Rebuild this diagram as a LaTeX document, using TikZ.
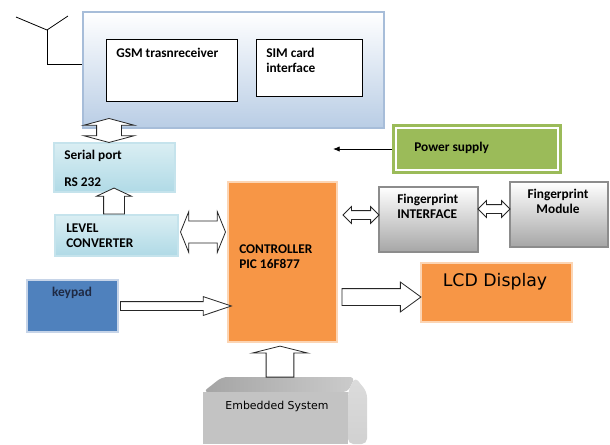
\documentclass[tikz,border=0pt]{standalone}
\usepackage{fontspec}
\setmainfont{Carlito}
\newfontfamily\dejavu{DejaVu Sans}
\usepackage{tikz}
\usetikzlibrary{arrows.meta,calc,fit,shapes.arrows}
\usepackage{xcolor}

\definecolor{gsmblue}{HTML}{B9CDE5}
\definecolor{gsmedge}{HTML}{A7BDD9}
\definecolor{porttop}{HTML}{DAEEF3}
\definecolor{portcyan}{HTML}{B0DAE6}
\definecolor{portedge}{HTML}{C5E3EC}
\definecolor{ctrlorange}{HTML}{F79646}
\definecolor{ctrledge}{HTML}{FCD5B4}
\definecolor{pwrgreen}{HTML}{9BBB59}
\definecolor{kpdblue}{HTML}{4F81BD}
\definecolor{kpdedge}{HTML}{C6D4E8}
\definecolor{kpdtext}{HTML}{1F2A44}
\definecolor{fpgray}{HTML}{A6A6A6}
\definecolor{fpedge}{HTML}{8C8C8C}
\definecolor{embface}{HTML}{C3C3C3}
\definecolor{embtop}{HTML}{A4A4A4}
\definecolor{embside}{HTML}{DCDCDC}

\begin{document}
\begin{tikzpicture}[x=0.75pt, y=-0.75pt,
    box/.style={inner sep=0pt, line width=0.8pt},
    lbl/.style={font=\bfseries\fontsize{10}{12}\selectfont, inner sep=0pt, anchor=base west},
    hollow/.style={draw=black!85, fill=white, line width=0.6pt, inner sep=0pt}]
    \useasboundingbox (0,0) rectangle (610,444);

    % --- 1. GSM MODULE WITH ANTENNA ---
    % outer panel (84 px from left, 116 px tall)
    \node[box, draw=gsmedge, top color=white, bottom color=gsmblue, fit={(83,12) (384,128)}] (gsm) {};
    \node[box, draw=black, fill=white, line width=0.6pt, fit={(106,39) (237,101)}] (gsmrx) {};
    \node[box, draw=black, fill=white, line width=0.6pt, fit={(256,39) (362,96)}] (sim) {};
    \node[lbl] at (116,57) {GSM trasnreceiver};
    \node[lbl] at (266,57) {SIM card};
    \node[lbl] at (266,72) {interface};

    \coordinate (ant) at (47,30);
    \draw[line width=0.6pt] (16,17) -- (ant) -- (68,16);
    \draw[line width=0.6pt] (ant) |- ($(gsm.west)+(0,-6)$);

    % --- 2. LEFT COLUMN ---
    \node[box, draw=portedge, top color=porttop, bottom color=portcyan, fit={(54,143) (175,192)}] (serial) {};
    \node[lbl] at (64,159) {Serial port};
    \node[lbl] at (64,186) {RS 232};

    \node[box, draw=portedge, top color=porttop, bottom color=portcyan, fit={(55,215) (178,256)}] (lvl) {};
    \node[lbl] at (66,232) {LEVEL};
    \node[lbl] at (66,247) {CONVERTER};

    \node[box, draw=kpdedge, fill=kpdblue, line width=1.5pt, fit={(27,280) (118,332)}] (kpd) {};
    \node[lbl, anchor=base, text=kpdtext] at (72,296) {keypad};

    % --- 3. CONTROLLER ---
    \node[box, draw=ctrledge, fill=ctrlorange, fit={(228,182) (337,342)}] (ctrl) {};
    \node[lbl] at (239,253) {CONTROLLER};
    \node[lbl] at (239,268) {PIC 16F877};

    % --- 4. RIGHT SIDE ---
    % green supply box with white inner rule
    \node[box, draw=pwrgreen, fill=pwrgreen, line width=1.5pt, fit={(393,125) (561,173)}] (pwr) {};
    \draw[white, line width=0.8pt] ($(pwr.north west)+(4,4)$) rectangle ($(pwr.south east)+(-4,-4)$);
    \node[lbl] at (414,151) {Power supply};
    \coordinate (pwrend) at (333,149);
    \draw[-{Latex[length=5pt,width=4pt]}, line width=0.6pt] (pwr.west) -- (pwrend);

    \node[box, draw=fpedge, top color=white, bottom color=fpgray, fit={(379,187) (478,252)}] (fpi) {};
    \node[lbl] at (397,203) {Fingerprint};
    \node[lbl] at (397,218) {INTERFACE};

    \node[box, draw=fpedge, top color=white, bottom color=fpgray, fit={(510,182) (608,247)}] (fpm) {};
    \node[lbl, anchor=base] at (558,198) {Fingerprint};
    \node[lbl, anchor=base] at (558,213) {Module};

    \node[box, draw=ctrledge, fill=ctrlorange, fit={(421,263) (572,322)}] (lcd) {};
    \node[font=\dejavu\fontsize{13}{15}\selectfont, inner sep=0pt, anchor=base] at (495,286) {LCD Display};

    % --- 5. EMBEDDED SYSTEM (bevelled block) ---
    \shade[left color=embtop, right color=embside!70!embtop, rounded corners=4pt]
        (203,392) -- (222,377) -- (355,377) -- (348,392) -- cycle;
    \shade[top color=embside, bottom color=embside!80!embtop, rounded corners=4pt]
        (348,392) -- (355,377) -- (367,392) -- (367,444) -- (348,444) -- cycle;
    \node[box, fill=embface, fit={(203,392) (348,444)}] (emb) {};
    \node[font=\dejavu\fontsize{8.2}{10}\selectfont, inner sep=0pt, anchor=base] at (277,409) {Embedded System};

    % --- 6. BLOCK ARROWS ---
    % sizes in pt: 1 px = 0.75pt, shaft = 2*inner ysep
    \node[hollow, double arrow, rotate=90, inner ysep=9pt, minimum height=18pt, minimum width=37.5pt,
          double arrow head extend=9.75pt, double arrow tip angle=150]
          (gsmser) at ($(serial.north)+(-5.5,-12)$) {};
    \node[hollow, single arrow, rotate=90, anchor=tail, inner ysep=7.5pt, minimum height=19.5pt, minimum width=25.5pt,
          single arrow head extend=5.25pt, single arrow tip angle=130]
          (lvlser) at ($(lvl.north)+(-2.5,0)$) {};
    \node[hollow, double arrow, inner ysep=7.9pt, minimum height=33.75pt, minimum width=30pt,
          double arrow head extend=7.1pt, double arrow tip angle=136]
          (lvlctrl) at ($(lvl.east)!.5!(ctrl.west |- lvl.east)+(0,-3.5)$) {};
    \node[hollow, double arrow, inner ysep=3pt, minimum height=27pt, minimum width=12pt,
          double arrow head extend=3pt, double arrow tip angle=90]
          (ctrlfpi) at ($(ctrl.east |- fpi.west)!.5!(fpi.west)+(3,-4.5)$) {};
    \node[hollow, double arrow, inner ysep=3pt, minimum height=24pt, minimum width=12pt,
          double arrow head extend=3pt, double arrow tip angle=90]
          (fpifpm) at ($(fpi.east)!.5!(fpm.west)+(0,-8)$) {};
    \node[hollow, single arrow, anchor=tail, inner ysep=3pt, minimum height=83.25pt, minimum width=13.5pt,
          single arrow head extend=3.75pt, single arrow tip angle=37]
          (kpdctrl) at ($(kpd.east)+(1,0)$) {};
    \node[hollow, single arrow, anchor=tail, inner ysep=6pt, minimum height=59.25pt, minimum width=21.75pt,
          single arrow head extend=4.9pt, single arrow tip angle=72]
          (ctrllcd) at ($(ctrl.east |- lcd.west)+(4,4.5)$) {};
    \node[hollow, single arrow, rotate=90, anchor=tail, inner ysep=10.1pt, minimum height=23.25pt, minimum width=41.25pt,
          single arrow head extend=10.5pt, single arrow tip angle=152]
          (embctrl) at ($(ctrl.south)+(-2.5,35)$) {};

\end{tikzpicture}
\end{document}
